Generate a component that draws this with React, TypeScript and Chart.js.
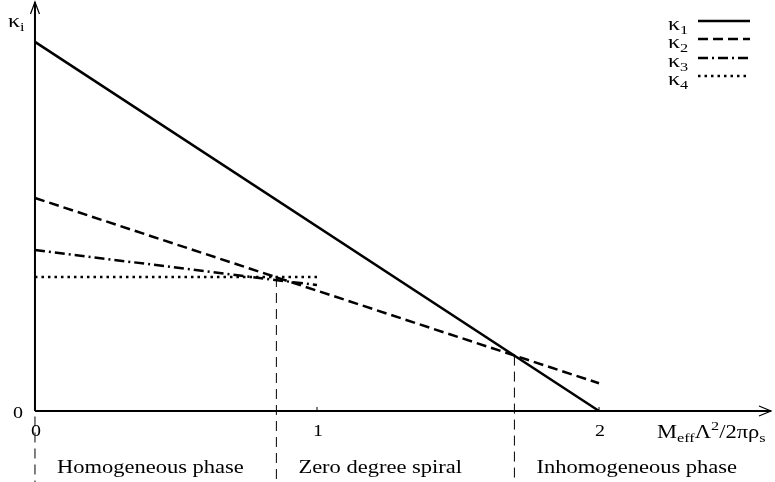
import React, { useEffect, useRef } from "react";
import { Chart, registerables } from "chart.js";

Chart.register(...registerables);

// ---- data ----
const kappa1X = [0, 2];
const kappa1Y = [1.0, 0.0];
const kappa2X = [0, 2];
const kappa2Y = [0.577, 0.075];
const kappa3X = [0, 1];
const kappa3Y = [0.436, 0.341];
const kappa4X = [0, 1];
const kappa4Y = [0.363, 0.363];
const boundaryX = [0, 0.856, 1.7];
const boundaryTop = [-0.015, 0.363, 0.15];
const boundaryBottom = [-0.2, -0.2, -0.2];
const xTicks = [0, 1, 2];
const yTicks = [0];
const seriesNames = ["1", "2", "3", "4"];
const phaseLabels = ["Homogeneous phase", "Zero degree spiral", "Inhomogeneous phase"];

const FONT = '"Liberation Serif", "DejaVu Serif", serif';
const SX = 1.25;

type Part = { t: string; size: number; dy: number };

function drawRich(ctx: CanvasRenderingContext2D, parts: Part[], x: number, y: number, align: "left" | "center" | "right") {
  ctx.save();
  const widths = parts.map((p) => {
    ctx.font = `${p.size}px ${FONT}`;
    return ctx.measureText(p.t).width;
  });
  const total = widths.reduce((a, b) => a + b, 0) * SX;
  const start = align === "center" ? x - total / 2 : align === "right" ? x - total : x;
  ctx.translate(start, y);
  ctx.scale(SX, 1);
  ctx.textBaseline = "alphabetic";
  ctx.textAlign = "left";
  ctx.fillStyle = "#000";
  let cx = 0;
  parts.forEach((p, i) => {
    ctx.font = `${p.size}px ${FONT}`;
    ctx.fillText(p.t, cx, p.dy);
    cx += widths[i];
  });
  ctx.restore();
}

const dashes: number[][] = [[], [10, 5], [10, 4, 2, 4], [2.5, 4]];

const axesPlugin = {
  id: "axesPlugin",
  beforeDatasetsDraw(chart: any) {
    const ctx: CanvasRenderingContext2D = chart.ctx;
    const xs = chart.scales.x;
    const ys = chart.scales.y;
    const x0 = xs.getPixelForValue(0);
    const y0 = ys.getPixelForValue(0);
    const right = chart.chartArea.right - 4;
    const top = chart.chartArea.top + 2;
    ctx.save();
    ctx.strokeStyle = "#000";
    ctx.lineWidth = 2;
    ctx.beginPath();
    ctx.moveTo(x0, y0);
    ctx.lineTo(right, y0);
    ctx.moveTo(x0, y0);
    ctx.lineTo(x0, top);
    ctx.stroke();
    ctx.lineWidth = 1.2;
    ctx.beginPath();
    ctx.moveTo(right - 12, y0 - 5);
    ctx.lineTo(right, y0);
    ctx.lineTo(right - 12, y0 + 5);
    ctx.moveTo(x0 - 4.5, top + 12);
    ctx.lineTo(x0, top);
    ctx.lineTo(x0 + 4.5, top + 12);
    ctx.stroke();
    // tick marks
    ctx.lineWidth = 1;
    xTicks.forEach((t) => {
      const px = xs.getPixelForValue(t);
      ctx.beginPath();
      ctx.moveTo(px, y0);
      ctx.lineTo(px, y0 - 4);
      ctx.stroke();
    });
    ctx.restore();
  },
  afterDraw(chart: any) {
    const ctx: CanvasRenderingContext2D = chart.ctx;
    const xs = chart.scales.x;
    const ys = chart.scales.y;
    const x0 = xs.getPixelForValue(0);
    const y0 = ys.getPixelForValue(0);
    // tick labels
    xTicks.forEach((t) => {
      drawRich(ctx, [{ t: String(t), size: 16, dy: 0 }], xs.getPixelForValue(t) + 1, y0 + 25, "center");
    });
    yTicks.forEach((t) => {
      drawRich(ctx, [{ t: String(t), size: 16, dy: 0 }], x0 - 12, ys.getPixelForValue(t) + 7, "right");
    });
    // y label
    drawRich(
      ctx,
      [
        { t: "κ", size: 19, dy: 0 },
        { t: "i", size: 13, dy: 4 },
      ],
      8,
      27,
      "left"
    );
    // x label
    drawRich(
      ctx,
      [
        { t: "M", size: 18, dy: 0 },
        { t: "eff", size: 13, dy: 4 },
        { t: "Λ", size: 18, dy: 0 },
        { t: "2", size: 13, dy: -8 },
        { t: "/2πρ", size: 18, dy: 0 },
        { t: "s", size: 13, dy: 4 },
      ],
      657,
      438,
      "left"
    );
    // phase labels
    phaseLabels.forEach((lab, i) => {
      drawRich(ctx, [{ t: lab, size: 18, dy: 0 }], xs.getPixelForValue(boundaryX[i]) + 22, 473, "left");
    });
    // legend
    const rowY = [21, 39, 58, 76];
    seriesNames.forEach((n, i) => {
      drawRich(
        ctx,
        [
          { t: "κ", size: 19, dy: 0 },
          { t: n, size: 13, dy: 4 },
        ],
        668,
        rowY[i] + 9,
        "left"
      );
      ctx.save();
      ctx.strokeStyle = "#000";
      ctx.lineWidth = 2.5;
      ctx.setLineDash(dashes[i]);
      ctx.beginPath();
      ctx.moveTo(698, rowY[i]);
      ctx.lineTo(750, rowY[i]);
      ctx.stroke();
      ctx.restore();
    });
  },
};

function pts(xa: number[], ya: number[]) {
  return xa.map((x, i) => ({ x, y: ya[i] }));
}

export default function App() {
  const ref = useRef<HTMLCanvasElement | null>(null);
  useEffect(() => {
    if (!ref.current) return;
    const lineDs = (data: any[], dash: number[], width: number) => ({
      data,
      borderColor: "#000",
      borderWidth: width,
      borderDash: dash,
      pointRadius: 0,
      fill: false,
      tension: 0,
      borderCapStyle: "butt" as const,
    });
    const datasets: any[] = [
      lineDs(pts(kappa1X, kappa1Y), dashes[0], 2.5),
      lineDs(pts(kappa2X, kappa2Y), dashes[1], 2.5),
      lineDs(pts(kappa3X, kappa3Y), dashes[2], 2.5),
      lineDs(pts(kappa4X, kappa4Y), dashes[3], 2.5),
    ];
    boundaryX.forEach((bx, i) => {
      datasets.push(lineDs([{ x: bx, y: boundaryTop[i] }, { x: bx, y: boundaryBottom[i] }], [10, 6], 1));
    });
    const chart = new Chart(ref.current, {
      type: "line",
      data: { datasets },
      options: {
        animation: false,
        responsive: true,
        maintainAspectRatio: false,
        layout: { padding: 0 },
        plugins: { legend: { display: false }, tooltip: { enabled: false } },
        scales: {
          x: { type: "linear", min: -0.124, max: 2.624, display: false },
          y: { type: "linear", min: -0.1925, max: 1.1135, display: false },
        },
      },
      plugins: [axesPlugin],
    });
    return () => chart.destroy();
  }, []);
  return (
    <div style={{ position: "absolute", left: 0, top: 0, width: 775, height: 482, background: "#fff" }}>
      <canvas ref={ref} />
    </div>
  );
}
